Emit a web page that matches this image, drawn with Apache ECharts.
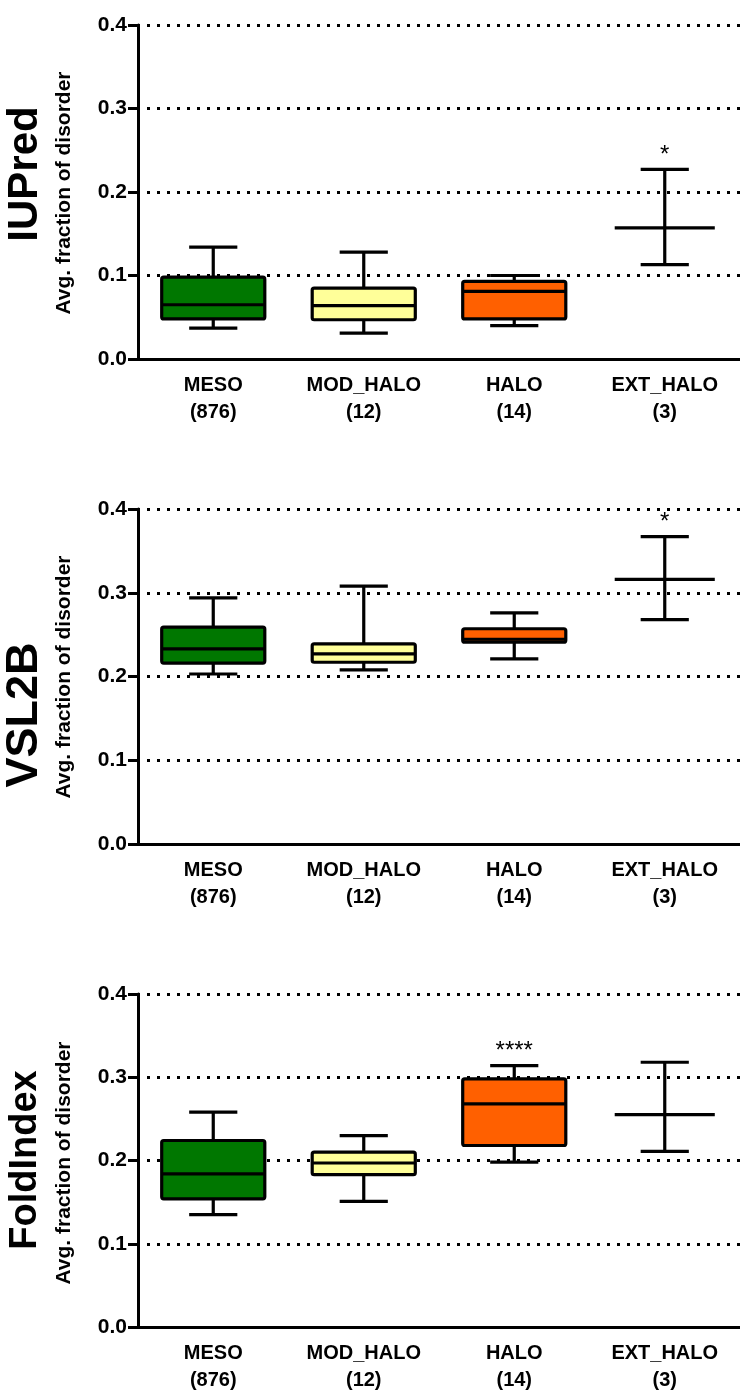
<!DOCTYPE html>
<html>
<head>
<meta charset="utf-8">
<script src="https://cdn.jsdelivr.net/npm/echarts@6/dist/echarts.min.js"></script>
<style>
  html, body { margin: 0; padding: 0; background: #fff; }
  #chart { width: 740px; height: 1394px; }
</style>
</head>
<body>
<div id="chart"></div>
<script>
  // groups and sizes
  const categories = ['MESO', 'MOD_HALO', 'HALO', 'EXT_HALO'];
  const counts = ['(876)', '(12)', '(14)', '(3)'];
  const yTicks = [0, 0.1, 0.2, 0.3, 0.4];

  // [min, Q1, median, Q3, max]; EXT_HALO only has range + mean
  const iupredVals = [
    [0.037, 0.048, 0.065, 0.098, 0.134],
    [0.031, 0.047, 0.064, 0.085, 0.128],
    [0.040, 0.048, 0.081, 0.093, 0.100],
    [0.113, null, 0.157, null, 0.227]
  ];
  const vsl2bVals = [
    [0.203, 0.216, 0.233, 0.259, 0.294],
    [0.208, 0.217, 0.227, 0.239, 0.308],
    [0.221, 0.241, 0.2445, 0.257, 0.276],
    [0.268, null, 0.316, null, 0.367]
  ];
  const foldIndexVals = [
    [0.135, 0.154, 0.184, 0.224, 0.258],
    [0.151, 0.183, 0.197, 0.210, 0.230],
    [0.198, 0.218, 0.268, 0.298, 0.314],
    [0.211, null, 0.255, null, 0.318]
  ];
  const iupredSig = ['', '', '', '*'];
  const vsl2bSig = ['', '', '', '*'];
  const foldIndexSig = ['', '', '****', ''];

  const boxFills = ['#007700', '#FFFF99', '#FF6000', 'none'];
  const fontFamily = '"Liberation Sans", Arial, sans-serif';

  let chart = echarts.init(document.getElementById('chart'));

  function makeRender(sig) {
    return function (params, api) {
      let i = api.value(0);
      let band = api.size([1, 0])[0];
      let cx = api.coord([i, 0])[0];
      let yLo = api.coord([i, api.value(1)])[1];
      let yMid = api.coord([i, api.value(3)])[1];
      let yHi = api.coord([i, api.value(5)])[1];
      let q1 = api.value(2), q3 = api.value(4);
      let boxW = band * 0.685, capW = band * 0.32, meanW = band * 0.665;
      let stroke = { stroke: '#000', lineWidth: 3.2 };
      let line = function (x1, y1, x2, y2) {
        return { type: 'line', shape: { x1: x1, y1: y1, x2: x2, y2: y2 }, style: stroke };
      };
      let children = [];
      if (q1 != null && !isNaN(q1)) {
        let yQ1 = api.coord([i, q1])[1];
        let yQ3 = api.coord([i, q3])[1];
        children.push(line(cx, yHi, cx, yQ3));
        children.push(line(cx, yQ1, cx, yLo));
        children.push({
          type: 'rect',
          shape: { x: cx - boxW / 2, y: yQ3, width: boxW, height: yQ1 - yQ3, r: 2 },
          style: { fill: boxFills[params.dataIndex], stroke: '#000', lineWidth: 3.2 }
        });
        children.push(line(cx - boxW / 2, yMid, cx + boxW / 2, yMid));
      } else {
        children.push(line(cx, yHi, cx, yLo));
        children.push(line(cx - meanW / 2, yMid, cx + meanW / 2, yMid));
      }
      children.push(line(cx - capW / 2, yHi, cx + capW / 2, yHi));
      children.push(line(cx - capW / 2, yLo, cx + capW / 2, yLo));
      if (sig[params.dataIndex]) {
        children.push({
          type: 'text',
          x: cx, y: yHi - 2,
          style: {
            text: sig[params.dataIndex], fill: '#000',
            font: '24px ' + fontFamily, textAlign: 'center', textVerticalAlign: 'bottom'
          }
        });
      }
      return { type: 'group', children: children };
    };
  }

  function toData(vals) {
    return vals.map(function (v, i) { return [i].concat(v); });
  }

  let grids = [
    { left: 138, right: 0, top: 25, height: 334 },
    { left: 138, right: 0, top: 509, height: 335 },
    { left: 138, right: 0, top: 994, height: 337 }
  ];

  let xAxes = grids.map(function (g, k) {
    return {
      type: 'category',
      gridIndex: k,
      data: categories,
      axisLine: { lineStyle: { color: '#000', width: 3 } },
      axisTick: { alignWithLabel: true, length: 8, lineStyle: { color: '#000', width: 3 } },
      axisLabel: {
        color: '#000', fontSize: 20, fontWeight: 'bold', fontFamily: fontFamily,
        margin: 13, lineHeight: 27,
        formatter: function (v, idx) { return v + '\n' + counts[idx]; }
      }
    };
  });

  let yAxes = grids.map(function (g, k) {
    return {
      type: 'value',
      gridIndex: k,
      min: yTicks[0],
      max: yTicks[yTicks.length - 1],
      interval: 0.1,
      axisLine: { show: true, lineStyle: { color: '#000', width: 3 } },
      axisTick: { show: true, length: 10, lineStyle: { color: '#000', width: 3 } },
      axisLabel: {
        color: '#000', fontSize: 21, fontWeight: 'bold', fontFamily: fontFamily, margin: 11,
        formatter: function (v) { return v.toFixed(1); }
      },
      splitLine: {
        show: true,
        lineStyle: { color: '#000', width: 3, type: [3, 7], dashOffset: -9 }
      }
    };
  });

  let panels = [
    { vals: iupredVals, sig: iupredSig },
    { vals: vsl2bVals, sig: vsl2bSig },
    { vals: foldIndexVals, sig: foldIndexSig }
  ];

  let series = panels.map(function (p, k) {
    return {
      type: 'custom',
      xAxisIndex: k,
      yAxisIndex: k,
      clip: false,
      z: 5,
      renderItem: makeRender(p.sig),
      data: toData(p.vals)
    };
  });

  // rotated panel titles
  let titleText = function (text, x, y, size) {
    return {
      type: 'text', x: x, y: y, rotation: Math.PI / 2,
      style: {
        text: text, fill: '#000', font: 'bold ' + size + 'px ' + fontFamily,
        textAlign: 'center', textVerticalAlign: 'middle'
      }
    };
  };

  chart.setOption({
    animation: false,
    grid: grids,
    xAxis: xAxes,
    yAxis: yAxes,
    series: series,
    graphic: [
      titleText('IUPred', 25, 174, 42),
      titleText('Avg. fraction of disorder', 64, 193, 21),
      titleText('VSL2B', 25, 715, 45),
      titleText('Avg. fraction of disorder', 64, 677, 21),
      titleText('FoldIndex', 26, 1160, 38),
      titleText('Avg. fraction of disorder', 64, 1163, 21)
    ]
  });

  window.addEventListener('resize', function () {
    chart.resize();
  });
</script>
</body>
</html>
